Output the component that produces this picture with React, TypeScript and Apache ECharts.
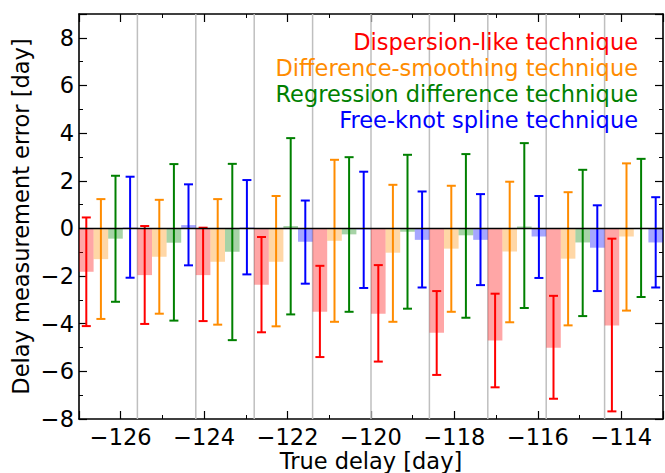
import React, { useEffect, useRef } from "react";
import * as echarts from "echarts";

// Group centres (true delay, day) – one group of four techniques per value
const trueDelays = [-126.3, -124.9, -123.5, -122.1, -120.7, -119.3, -117.9, -116.5, -115.1, -113.7];

const techniqueNames = [
  "Dispersion-like technique",
  "Difference-smoothing technique",
  "Regression difference technique",
  "Free-knot spline technique",
];

// Mean error, lower and upper end of error bar for each technique
const dispersionMean = [-1.82, -1.96, -1.96, -2.36, -3.5, -3.58, -4.38, -4.71, -5.01, -4.08];
const dispersionLow = [-4.1, -4.01, -3.89, -4.36, -5.4, -5.59, -6.15, -6.67, -7.15, -7.68];
const dispersionHigh = [0.46, 0.1, 0.03, -0.36, -1.57, -1.54, -2.63, -2.74, -2.83, -0.43];

const smoothingMean = [-1.29, -1.19, -1.4, -1.4, -0.52, -1.02, -0.85, -0.97, -1.27, -0.34];
const smoothingLow = [-3.8, -3.58, -4.04, -4.11, -3.92, -3.92, -3.5, -3.94, -4.07, -3.45];
const smoothingHigh = [1.23, 1.2, 1.23, 1.36, 2.88, 1.83, 1.79, 1.96, 1.52, 2.73];

const regressionMean = [-0.43, -0.6, -0.98, 0.1, -0.25, -0.14, -0.29, 0.08, -0.59, 0.02];
const regressionLow = [-3.08, -3.87, -4.69, -3.61, -3.5, -3.37, -3.75, -3.34, -3.68, -2.88];
const regressionHigh = [2.21, 2.7, 2.71, 3.79, 2.99, 3.09, 3.12, 3.58, 2.46, 2.92];

const splineMean = [0.04, 0.14, 0.04, -0.56, -0.05, -0.48, -0.48, -0.34, -0.81, -0.59];
const splineLow = [-2.07, -1.55, -1.93, -2.32, -2.5, -2.48, -2.38, -2.08, -2.63, -2.48];
const splineHigh = [2.17, 1.85, 2.03, 1.17, 2.38, 1.55, 1.44, 1.36, 0.97, 1.31];

const xMin = -127;
const xMax = -113;
const yMin = -8;
const yMax = 9;

const GROUP_WIDTH = 1.4;
const BAR_WIDTH = GROUP_WIDTH / 4;
const lineColors = ["#ff0000", "#ff8c00", "#008000", "#0000ff"];
const barColors = [
  "rgba(255,0,0,0.35)",
  "rgba(255,140,0,0.35)",
  "rgba(0,128,0,0.35)",
  "rgba(0,0,255,0.35)",
];
const FONT = '"DejaVu Sans", sans-serif';
const FS = 22.5;

const fmt = (v: number) => {
  if (Math.abs(v % 2) > 1e-6) return "";
  return v < 0 ? "\u2212" + Math.abs(v) : String(v);
};

export default function App() {
  const ref = useRef<HTMLDivElement>(null);
  useEffect(() => {
    if (!ref.current) return;
    const chart = echarts.init(ref.current, null, { renderer: "svg" });

    const means = [dispersionMean, smoothingMean, regressionMean, splineMean];
    const lows = [dispersionLow, smoothingLow, regressionLow, splineLow];
    const highs = [dispersionHigh, smoothingHigh, regressionHigh, splineHigh];

    const techSeries = techniqueNames.map((name, t) => ({
      type: "custom",
      name,
      xAxisIndex: 0,
      yAxisIndex: 0,
      z: 3,
      encode: { x: 0, y: [1, 2, 3] },
      data: trueDelays.map((d, g) => [
        d + (t - 1.5) * BAR_WIDTH,
        means[t][g],
        lows[t][g],
        highs[t][g],
      ]),
      renderItem: (params: any, api: any) => {
        const x = api.value(0);
        const m = api.value(1);
        const lo = api.value(2);
        const hi = api.value(3);
        const p0 = api.coord([x - BAR_WIDTH / 2, 0]);
        const p1 = api.coord([x + BAR_WIDTH / 2, m]);
        const pl = api.coord([x, lo]);
        const ph = api.coord([x, hi]);
        const cap = 4.5;
        const ls = { stroke: lineColors[t], lineWidth: 2 };
        return {
          type: "group",
          children: [
            {
              type: "rect",
              shape: {
                x: p0[0],
                y: Math.min(p0[1], p1[1]),
                width: p1[0] - p0[0],
                height: Math.abs(p1[1] - p0[1]),
              },
              style: { fill: barColors[t] },
            },
            { type: "line", shape: { x1: pl[0], y1: pl[1], x2: ph[0], y2: ph[1] }, style: ls },
            { type: "line", shape: { x1: pl[0] - cap, y1: pl[1], x2: pl[0] + cap, y2: pl[1] }, style: ls },
            { type: "line", shape: { x1: ph[0] - cap, y1: ph[1], x2: ph[0] + cap, y2: ph[1] }, style: ls },
          ],
        };
      },
    }));

    const boundaries = trueDelays.slice(1).map((d) => d - GROUP_WIDTH / 2);

    const axisCommon = {
      axisLine: { show: true, onZero: false, lineStyle: { color: "#000", width: 1.6 } },
      axisTick: { show: true, inside: true, length: 8, lineStyle: { color: "#000", width: 1.2 } },
      minorTick: { show: true, splitNumber: 2, length: 4, lineStyle: { color: "#000", width: 1 } },
      splitLine: { show: false },
    };

    const option: any = {
      animation: false,
      grid: {
        left: 79,
        right: 2,
        top: 14,
        bottom: 54,
        containLabel: false,
        outerBoundsMode: "none",
      },
      xAxis: [
        {
          type: "value",
          min: xMin,
          max: xMax,
          splitNumber: 7,
          position: "bottom",
          ...axisCommon,
          axisLabel: {
            formatter: fmt,
            fontSize: FS,
            fontFamily: FONT,
            color: "#000",
            margin: 6,
          },
          name: "True delay [day]",
          nameLocation: "middle",
          nameGap: 30,
          nameMoveOverlap: false,
          nameTextStyle: { fontSize: FS, fontFamily: FONT, color: "#000" },
        },
        {
          type: "value",
          min: xMin,
          max: xMax,
          splitNumber: 7,
          position: "top",
          ...axisCommon,
          axisLabel: { show: false },
        },
      ],
      yAxis: [
        {
          type: "value",
          min: yMin,
          max: yMax,
          interval: 2,
          position: "left",
          ...axisCommon,
          axisLabel: {
            formatter: fmt,
            fontSize: FS,
            fontFamily: FONT,
            color: "#000",
            margin: 5,
          },
          name: "Delay measurement error [day]",
          nameLocation: "middle",
          nameGap: 47,
          nameMoveOverlap: false,
          nameTextStyle: { fontSize: FS, fontFamily: FONT, color: "#000" },
        },
        {
          type: "value",
          min: yMin,
          max: yMax,
          interval: 2,
          position: "right",
          ...axisCommon,
          axisLabel: { show: false },
        },
      ],
      series: [
        {
          type: "custom",
          name: "boundaries",
          xAxisIndex: 0,
          yAxisIndex: 0,
          z: 1,
          silent: true,
          encode: { x: 0 },
          data: boundaries.map((b) => [b]),
          renderItem: (params: any, api: any) => {
            const a = api.coord([api.value(0), yMin]);
            const b = api.coord([api.value(0), yMax]);
            return {
              type: "line",
              shape: { x1: a[0], y1: a[1], x2: b[0], y2: b[1] },
              style: { stroke: "#bfbfbf", lineWidth: 1.5 },
            };
          },
        },
        ...techSeries,
        {
          type: "custom",
          name: "zero",
          xAxisIndex: 0,
          yAxisIndex: 0,
          z: 5,
          silent: true,
          encode: { x: 0, y: 1 },
          data: [[xMin, 0]],
          renderItem: (params: any, api: any) => {
            const a = api.coord([xMin, 0]);
            const b = api.coord([xMax, 0]);
            return {
              type: "line",
              shape: { x1: a[0], y1: a[1], x2: b[0], y2: b[1] },
              style: { stroke: "#000", lineWidth: 1.5 },
            };
          },
        },
      ],
      graphic: techniqueNames.map((name, i) => ({
        type: "text",
        x: 638,
        y: 42 + i * 26,
        z: 10,
        style: {
          text: name,
          fill: lineColors[i],
          fontSize: FS,
          fontFamily: FONT,
          align: "right",
          verticalAlign: "middle",
        },
      })),
    };

    chart.setOption(option);
    return () => chart.dispose();
  }, []);

  return (
    <div
      ref={ref}
      style={{ position: "fixed", left: 0, top: 0, width: 665, height: 473, background: "#fff" }}
    />
  );
}
